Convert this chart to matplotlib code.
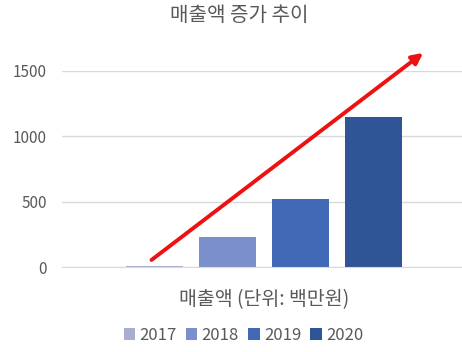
import matplotlib.pyplot as plt

plt.rcParams['font.family'] = ['Noto Sans CJK KR', 'DejaVu Sans']

years = ['2017', '2018', '2019', '2020']
sales = [12, 235, 525, 1150]
colors = ['#a9aed0', '#7a8fcb', '#4169b6', '#2f5597']
yticks = [0, 500, 1000, 1500]

fig = plt.figure(figsize=(4.62, 3.52), dpi=100)
ax = fig.add_axes([0.134, 0.2406, 0.866, 0.5585])

# one category, four series side by side
slot = 1.0
width = 0.78
n = len(years)
for i, (yr, v, c) in enumerate(zip(years, sales, colors)):
    x = (i - (n - 1) / 2) * slot
    ax.bar(x, v, width=width, color=c, label=yr, zorder=2)

ax.set_xlim(-2.767, 2.712)
ax.set_ylim(0, 1500)
ax.set_yticks(yticks)
ax.set_xticks([])
ax.tick_params(axis='y', length=0, pad=11, labelsize=11, labelcolor='#595959')
ax.grid(axis='y', color='#d9d9d9', linewidth=1, zorder=0)
for s in ['top', 'right', 'left']:
    ax.spines[s].set_visible(False)
ax.spines['bottom'].set_color('#d9d9d9')

# growth arrow
ax.annotate('', xy=(2.18, 1636), xytext=(-1.54, 56),
            arrowprops=dict(arrowstyle='-|>', color='#ee1111', lw=2.8,
                            mutation_scale=16, shrinkA=0, shrinkB=0),
            annotation_clip=False, zorder=5)

fig.text(0.517, 0.955, '매출액 증가 추이', ha='center', va='center',
         fontsize=14.5, color='#595959')
fig.text(0.572, 0.148, '매출액 (단위: 백만원)', ha='center', va='center',
         fontsize=14, color='#595959')

leg = fig.legend(loc='center', bbox_to_anchor=(0.527, 0.048), ncol=4,
                 frameon=False, fontsize=12, handlelength=0.7, handleheight=0.7,
                 handletextpad=0.25, columnspacing=0.55)
for t in leg.get_texts():
    t.set_color('#595959')

fig.savefig('out.png', dpi=100)
